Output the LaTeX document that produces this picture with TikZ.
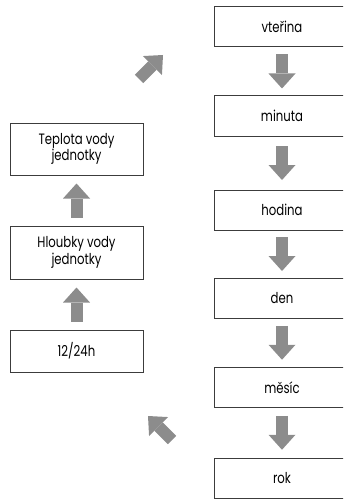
\documentclass[tikz,border=0pt]{standalone}
\usepackage{fontspec}
\setmainfont{Poppins}[FakeStretch=0.78]
\usetikzlibrary{arrows.meta,calc}
\definecolor{arrgray}{RGB}{140,140,140}
\definecolor{boxline}{RGB}{60,60,60}
\tikzset{
  box/.style={draw=boxline, line width=1pt, inner sep=0pt, align=center,
    font=\fontsize{15}{16.5}\selectfont},
  rbox/.style={box, minimum width=136pt, minimum height=40pt},
  lbox/.style={box, minimum width=133pt},
  blk/.style={draw=arrgray, line width=12pt,
    -{Triangle[width=27pt,length=15pt,line width=0pt]}}
}
\newcommand\blkarrow[3]{% from, to, direction sign
  \draw[blk] ($(#1)!.5!(#2)+(0,#3*-17)$) -- ($(#1)!.5!(#2)+(0,#3*17)$);}
\begin{document}
\begin{tikzpicture}[x=1pt,y=-1pt]
\useasboundingbox (0,0) rectangle (343,500);
\clip (0,0) rectangle (343,500);
% right column
\node[rbox] (v)  at (282,27)  {vteřina};
\node[rbox] (m)  at (282,116) {minuta};
\node[rbox] (h)  at (282,210) {hodina};
\node[rbox] (d)  at (282,298) {den};
\node[rbox] (me) at (282,387.5) {měsíc};
\node[rbox] (r)  at (282,478) {rok};
% left column
\node[lbox, minimum height=52pt] (t)  at (76.5,149)   {Teplota vody\\jednotky};
\node[lbox, minimum height=53pt] (hl) at (76.5,252.5) {Hloubky vody\\jednotky};
\node[lbox, minimum height=42pt] (tw) at (76.5,351)   {12/24h};
% down arrows
\blkarrow{v.south}{m.north}{1}
\blkarrow{m.south}{h.north}{1}
\blkarrow{h.south}{d.north}{1}
\blkarrow{d.south}{me.north}{1}
\blkarrow{me.south}{r.north}{1}
% up arrows
\blkarrow{tw.north}{hl.south}{-1}
\blkarrow{hl.north}{t.south}{-1}
% diagonal arrows
\coordinate (d1s) at (139,79);
\coordinate (d1e) at (163,55);
\coordinate (d2s) at (172,440);
\coordinate (d2e) at (148,416);
\draw[blk] (d1s) -- (d1e);
\draw[blk] (d2s) -- (d2e);
\end{tikzpicture}
\end{document}
